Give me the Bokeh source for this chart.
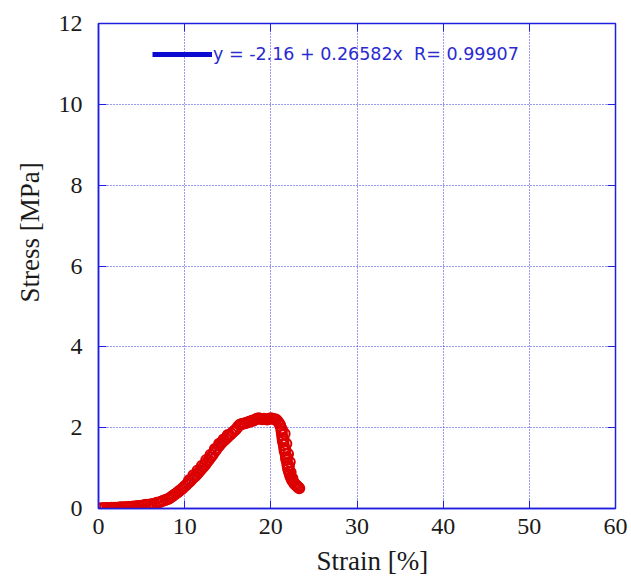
from bokeh.plotting import figure
from bokeh.models import Range1d, LinearAxis, Legend, LegendItem, FixedTicker, Title
from bokeh.embed import file_html
from bokeh.resources import INLINE

# ---- data ----
strain = [0, 0.25, 0.5, 0.75, 1.0, 1.25, 1.5, 1.75, 2.0, 2.25, 2.5, 2.75, 3.0, 3.25, 3.5, 3.75,
          4.0, 4.25, 4.5, 4.75, 5.0, 5.25, 5.5, 5.75, 6.0, 6.25, 6.5, 6.75, 7.0, 7.25, 7.5, 7.75, 8.0,
          8.2, 8.4, 8.6, 8.8, 9.0, 9.2, 9.4, 9.6, 9.8, 10.0, 10.2, 10.4, 10.6, 10.8, 11.0, 11.2, 11.4,
          11.6, 11.8, 12.0, 12.2, 12.4, 12.6, 12.8, 13.0, 13.2, 13.4, 13.6, 13.8, 14.0, 14.2, 14.4,
          14.6, 14.8, 15.0, 15.2, 15.4, 15.6, 15.8, 16.0, 16.2, 16.4, 16.6, 16.8, 17.0, 17.2, 17.4,
          17.6, 17.8, 18.0, 18.2, 18.4, 18.6, 18.8, 19.0, 19.2, 19.4, 19.6, 19.8, 20.0, 20.2, 20.4,
          20.6, 20.8, 21.0, 21.1, 21.2, 21.25, 21.3, 21.35, 21.4, 21.5, 21.55, 21.6, 21.7, 21.75,
          21.8, 21.9, 21.95, 22.0, 22.1, 22.2, 22.3, 22.4, 22.5, 22.6, 22.7, 22.8, 22.9, 23.0, 23.1,
          23.2, 23.3,
          21.3, 21.5, 21.7, 21.9, 22.1, 22.3, 22.5, 22.2, 22.0, 21.8, 21.6,
          10.5, 11.0, 11.5, 12.0, 12.5, 13.0, 13.5, 14.0, 14.5, 15.0]
stress = [0.00, 0.00, 0.01, 0.01, 0.01, 0.01, 0.02, 0.02, 0.02, 0.02, 0.03, 0.03, 0.03, 0.04, 0.04, 0.04,
          0.05, 0.05, 0.06, 0.06, 0.07, 0.08, 0.09, 0.09, 0.10, 0.11, 0.12, 0.14, 0.15, 0.17, 0.19, 0.21, 0.23,
          0.25, 0.28, 0.31, 0.34, 0.37, 0.40, 0.44, 0.47, 0.51, 0.55, 0.59, 0.63, 0.67, 0.72, 0.76, 0.80, 0.84,
          0.89, 0.94, 0.99, 1.04, 1.09, 1.15, 1.20, 1.26, 1.32, 1.38, 1.44, 1.50, 1.55, 1.60, 1.65,
          1.69, 1.73, 1.77, 1.81, 1.85, 1.89, 1.93, 1.97, 2.03, 2.07, 2.09, 2.10, 2.11, 2.12, 2.14,
          2.15, 2.17, 2.18, 2.20, 2.22, 2.23, 2.22, 2.21, 2.22, 2.21, 2.20, 2.22, 2.23, 2.22, 2.21,
          2.20, 2.16, 2.10, 2.05, 1.98, 1.90, 1.82, 1.74, 1.66, 1.58, 1.50, 1.42, 1.35, 1.27,
          1.20, 1.12, 1.05, 0.98, 0.91, 0.84, 0.78, 0.73, 0.69, 0.66, 0.63, 0.60, 0.58, 0.56, 0.54,
          0.52, 0.50,
          1.95, 1.70, 1.45, 1.25, 1.05, 0.90, 0.75, 1.15, 1.35, 1.60, 1.85,
          0.70, 0.82, 0.94, 1.06, 1.20, 1.33, 1.47, 1.60, 1.71, 1.82]

fit_intercept = -2.16
fit_slope = 0.26582
fit_R = 0.99907
fit_range = [10.0, 15.0]

x_ticks = [0, 10, 20, 30, 40, 50, 60]
y_ticks = [0, 2, 4, 6, 8, 10, 12]

BLUE = "#1f1fe0"
SERIF = '"Liberation Serif", "Times New Roman", serif'

p = figure(width=631, height=583, output_backend="svg", toolbar_location=None,
           x_range=Range1d(0, 60), y_range=Range1d(0, 12),
           min_border_left=98, min_border_right=16, min_border_top=23, min_border_bottom=75)
p.background_fill_color = "white"
p.border_fill_color = "white"
p.outline_line_color = BLUE
p.outline_line_width = 1.5

fit_y = [fit_intercept + fit_slope * v for v in fit_range]
p.line(fit_range, fit_y, line_color=BLUE, line_width=2)
p.scatter(strain, stress, marker="circle", size=10, fill_color=None,
          line_color="#dd0000", line_width=2)

nan = float("nan")
legend_line = p.line([nan, nan], [nan, nan], line_color="#0a0ad0", line_width=5)

for ax in (p.xaxis[0], p.yaxis[0]):
    ax.axis_line_color = BLUE
    ax.axis_line_width = 1.5
    ax.major_tick_line_color = BLUE
    ax.major_tick_in = 8
    ax.major_tick_out = 0
    ax.minor_tick_line_color = None
    ax.major_label_text_font = "Liberation Serif"
    ax.major_label_text_font_size = "24px"
    ax.major_label_text_color = "#1a1a1a"

p.xaxis[0].ticker = FixedTicker(ticks=x_ticks)
p.yaxis[0].ticker = FixedTicker(ticks=y_ticks)
p.xaxis[0].major_label_standoff = 10
p.yaxis[0].major_label_standoff = 16

top_ax = LinearAxis(ticker=FixedTicker(ticks=x_ticks),
                    major_label_overrides={t: "" for t in x_ticks},
                    axis_line_color=BLUE, major_tick_line_color=BLUE, major_tick_in=8,
                    major_tick_out=0, minor_tick_line_color=None, major_label_standoff=0)
right_ax = LinearAxis(ticker=FixedTicker(ticks=y_ticks),
                      major_label_overrides={t: "" for t in y_ticks},
                      axis_line_color=BLUE, major_tick_line_color=BLUE, major_tick_in=8,
                      major_tick_out=0, minor_tick_line_color=None, major_label_standoff=0)
p.add_layout(top_ax, "above")
p.add_layout(right_ax, "right")

# axis titles (placed like the original: off-centre)
x_title = Title(text="Strain [%]", align="left", offset=218, standoff=14)
y_title = Title(text="Stress [MPa]", align="left", offset=206, standoff=22)
for t in (x_title, y_title):
    t.text_font = SERIF
    t.text_font_size = "27px"
    t.text_font_style = "normal"
    t.text_color = "#1a1a1a"
p.add_layout(x_title, "below")
p.add_layout(y_title, "left")

for g in (p.xgrid[0], p.ygrid[0]):
    g.grid_line_color = BLUE
    g.grid_line_dash = "1 2"
    g.grid_line_width = 1
    g.grid_line_alpha = 0.9
p.xgrid[0].ticker = FixedTicker(ticks=x_ticks)
p.ygrid[0].ticker = FixedTicker(ticks=y_ticks)

label = "y = %s + %sx  R= %s" % (fit_intercept, fit_slope, fit_R)
legend = Legend(items=[LegendItem(label=label, renderers=[legend_line])],
                location=(54, 444), orientation="vertical",
                glyph_width=60, glyph_height=20, label_standoff=1,
                padding=0, margin=0, spacing=0,
                border_line_color=None, background_fill_alpha=0,
                label_text_font="DejaVu Sans", label_text_font_size="17.5px",
                label_text_color="#2a2ad0")
p.add_layout(legend, "center")

open("out.html", "w").write(file_html(p, INLINE))
